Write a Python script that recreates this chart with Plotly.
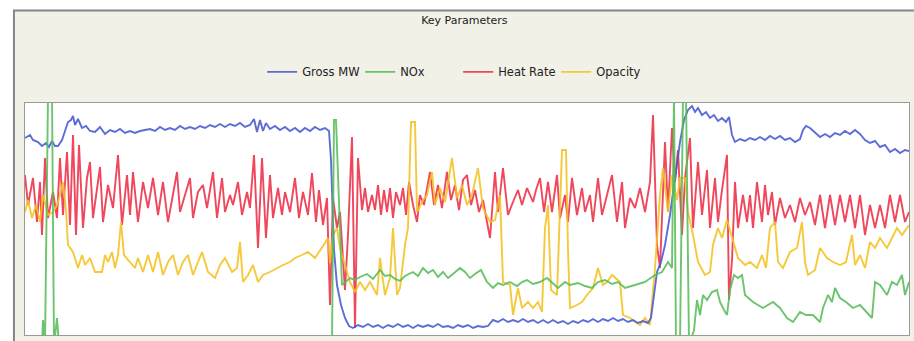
import plotly.graph_objects as go

# ---- data (time index, scaled value) ----
hr_t = [0,3,8,12,15,17,20,23,28,32,35,38,42,45,48,51,54,58,62,65,68,75,78,83,88,93,97,102,105,108,113,118,123,128,133,138,143,148,152,155,160,165,168,173,178,182,188,192,197,200,205,208,213,217,222,225,229,233,237,241,245,248,253,257,260,265,270,274,278,283,287,291,294,298,302,305,308,312,315,320,323,327,330,333,337,340,343,347,350,353,356,359,362,365,368,371,375,378,381,384,388,392,395,399,405,409,413,417,422,426,430,434,438,442,446,450,454,458,462,465,470,473,478,483,488,493,497,502,508,511,515,519,523,527,532,535,540,543,547,552,557,560,565,568,573,577,582,587,592,597,600,605,610,615,620,625,628,632,635,640,643,647,650,653,657,660,665,668,673,677,682,685,690,693,697,702,704,707,710,713,718,722,725,728,732,737,740,743,747,750,755,760,765,770,775,780,785,790,795,800,805,810,815,820,825,830,835,840,845,850,855,860,865,870,875,880,884]
heat_rate = [160,130,157,113,153,100,177,117,143,117,177,120,183,110,200,100,190,107,157,173,117,168,113,150,127,180,110,160,120,163,113,153,127,157,120,153,113,140,163,123,140,157,117,143,150,127,163,117,157,123,140,130,153,120,143,127,180,87,177,97,160,117,147,120,143,123,157,117,143,120,162,113,145,110,137,30,137,107,123,45,100,198,7,177,125,147,123,140,125,150,120,145,123,147,117,143,130,147,120,153,130,113,140,130,163,130,150,127,163,135,150,125,155,160,130,145,123,135,113,97,163,123,167,120,133,145,130,147,133,145,157,123,153,123,160,117,140,113,157,120,147,123,140,113,157,120,140,160,113,153,107,137,127,147,123,153,220,90,67,193,123,207,153,185,100,157,197,107,173,120,165,107,157,113,145,180,35,75,153,107,140,113,140,107,153,113,150,120,143,110,137,117,130,113,137,120,133,110,140,107,140,110,140,113,140,107,140,100,130,107,130,107,140,113,140,113,123]

gross_t = [0,5,8,13,17,21,24,27,30,33,37,40,43,46,48,50,53,57,61,65,70,75,80,85,90,95,100,105,110,115,120,125,130,135,140,145,150,155,160,165,170,175,180,185,190,195,200,205,210,215,220,225,229,232,235,238,241,245,250,255,260,265,270,275,280,285,290,295,300,304,306,309,312,316,320,324,328,333,338,343,348,353,358,363,368,373,378,383,388,393,398,403,408,413,418,423,428,433,438,443,448,453,458,463,468,473,478,483,488,493,498,503,508,513,518,523,528,533,538,543,548,553,558,563,568,573,578,583,588,593,598,603,608,613,618,623,626,629,632,636,640,645,650,655,659,663,667,670,673,677,681,685,689,693,697,701,704,707,710,715,720,725,730,735,740,745,750,755,760,765,770,775,778,781,785,790,795,800,805,810,815,820,825,830,835,840,845,850,855,860,865,870,875,880,884]
gross_mw = [197,200,195,193,189,192,188,194,189,189,195,205,213,215,219,210,216,207,209,204,203,208,201,205,203,206,202,204,202,204,205,206,204,208,205,207,205,209,206,208,206,209,207,210,208,211,208,211,209,212,208,210,216,203,215,204,212,206,209,205,208,204,207,203,207,204,208,205,207,204,175,85,50,30,17,9,7,10,8,11,8,10,7,10,8,11,8,10,7,10,8,10,8,11,8,9,7,10,8,10,7,9,8,9,15,13,16,13,15,13,16,13,15,12,15,12,15,12,14,11,14,12,15,13,16,13,16,14,17,14,16,13,15,12,14,12,17,40,63,73,90,120,155,193,215,225,229,223,227,220,223,217,220,214,217,213,218,200,193,196,194,197,195,198,195,199,196,199,195,197,193,196,205,209,207,202,198,201,198,202,200,204,201,205,201,195,192,194,188,190,183,186,182,185,184]

op_t = [0,3,7,11,15,18,23,28,32,35,38,41,43,48,53,57,60,65,70,77,80,83,87,90,93,96,99,105,110,113,118,123,128,133,138,143,148,153,158,163,168,173,177,183,190,195,200,207,212,215,218,223,228,233,238,245,252,258,265,270,277,283,290,297,300,303,305,308,312,315,320,325,330,335,340,345,352,355,360,365,368,372,375,380,383,386,390,392,397,402,407,410,415,420,427,432,437,442,447,453,458,465,470,475,478,485,488,493,497,503,508,513,517,520,523,526,532,537,541,543,545,552,557,562,568,573,578,582,587,595,598,605,610,615,620,625,630,635,638,643,647,652,655,660,663,668,673,680,685,688,693,697,702,708,713,720,725,732,737,741,745,750,753,758,765,772,777,780,783,790,795,802,808,815,821,827,830,835,840,845,850,855,862,867,872,877,884]
opacity = [123,135,117,130,113,140,120,123,130,140,153,125,90,83,67,80,70,77,63,63,80,73,83,67,80,113,80,73,67,77,63,80,63,83,60,73,80,60,73,80,60,73,83,63,57,70,77,63,67,93,53,60,70,53,60,63,67,70,73,77,80,83,77,87,92,97,72,100,107,87,70,53,43,53,45,53,40,77,40,57,107,40,47,90,107,213,213,123,133,140,163,130,147,133,177,137,150,130,140,167,127,113,115,140,53,50,20,47,27,33,27,33,23,107,130,45,40,185,185,85,27,30,33,40,47,67,50,53,60,53,20,17,13,10,17,10,67,140,167,123,160,135,157,157,123,100,73,60,63,90,107,97,115,93,77,70,73,67,80,67,107,113,73,67,83,87,113,73,60,65,87,77,73,70,73,100,70,80,67,93,87,97,87,97,107,100,110]

nox_t = [0,17,18,20,23,25,27,29,32,34,307,309,311,317,325,330,335,342,348,355,360,365,370,375,380,388,393,398,403,408,413,418,423,428,435,440,445,450,456,462,468,473,478,485,492,497,502,508,515,522,528,533,540,545,553,560,567,573,580,587,593,600,610,620,630,637,643,647,649,651,655,658,661,664,669,672,675,678,682,687,692,695,699,702,705,709,713,717,720,728,738,748,755,762,768,775,781,788,795,798,803,807,810,815,821,828,835,842,847,850,855,862,867,872,877,880,884]
nox = [-10,-10,15,-10,240,240,240,-10,17,-10,-10,215,215,50,57,55,58,61,56,65,59,60,56,54,59,63,59,67,62,65,58,63,57,61,67,63,57,61,65,53,47,52,50,53,49,53,55,51,53,57,52,47,53,50,52,49,47,53,55,51,53,47,50,53,60,63,73,67,240,-10,-10,240,240,-10,5,35,20,40,35,43,45,33,25,20,45,60,57,60,40,33,27,33,27,17,13,23,20,20,13,27,40,33,47,37,33,27,30,23,17,53,50,40,53,50,60,40,53]

series = [
    ("Heat Rate", hr_t, heat_rate, "#ee2e46", 3),
    ("Opacity", op_t, opacity, "#f5c21f", 4),
    ("Gross MW", gross_t, gross_mw, "#4759d2", 1),
    ("NOx", nox_t, nox, "#58bd5a", 2),
]

fig = go.Figure()
for name, t, v, col, rank in series:
    fig.add_trace(go.Scatter(x=t, y=v, mode="lines", name=name,
                             line=dict(color=col, width=1.9),
                             opacity=0.88, legendrank=rank))

fig.update_layout(
    width=914, height=341,
    margin=dict(l=25, r=5, t=103, b=6, autoexpand=False),
    paper_bgcolor="white",
    plot_bgcolor="white",
    font=dict(family="DejaVu Sans, Verdana, sans-serif", size=11, color="#222"),
    title=dict(text="Key Parameters", x=0.497, xref="paper", y=0.94, yanchor="middle",
               xanchor="center", font=dict(size=11, color="#1a1a1a")),
    showlegend=True,
    legend=dict(orientation="h", x=0.49, xanchor="center", y=1.134, yanchor="middle",
                bgcolor="rgba(0,0,0,0)", font=dict(size=11.5, color="#222"),
                traceorder="normal", entrywidth=53, entrywidthmode="pixels"),
    xaxis=dict(range=[0, 884], showgrid=False, zeroline=False, showticklabels=False,
               ticks="", showline=True, mirror=True, linecolor="#9a9a9a", linewidth=1),
    yaxis=dict(range=[0, 232], showgrid=False, zeroline=False, showticklabels=False,
               ticks="", showline=True, mirror=True, linecolor="#9a9a9a", linewidth=1),
    shapes=[
        dict(type="rect", xref="paper", yref="paper", x0=-0.0125, x1=1.03, y0=-0.2, y1=1.3987,
             fillcolor="#f2f1e8", line=dict(color="#858585", width=2), layer="below"),
        dict(type="rect", xref="paper", yref="paper", x0=0, x1=1, y0=0, y1=1,
             fillcolor="white", line=dict(width=0), layer="below"),
    ],
)

fig.write_html("out.html")
